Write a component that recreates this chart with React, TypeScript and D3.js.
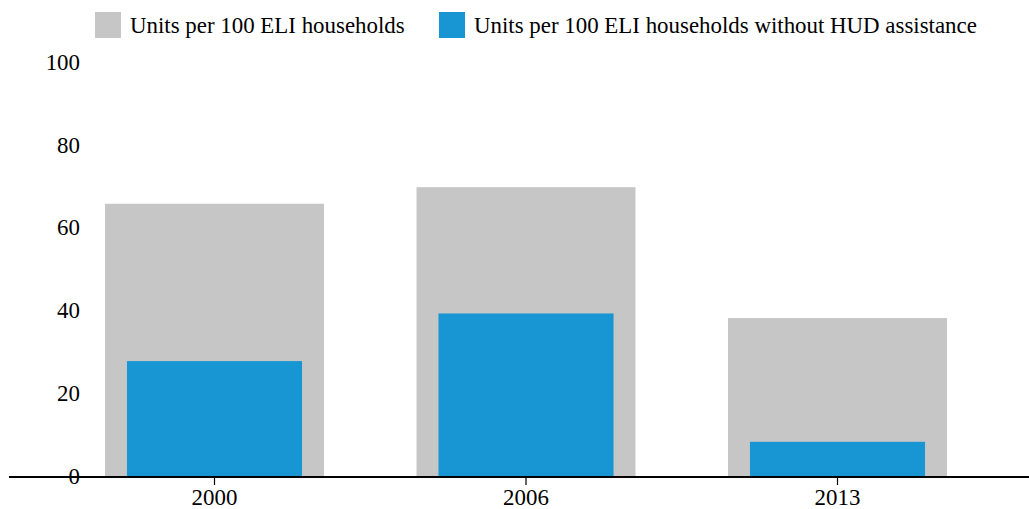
import React from "react";
import * as d3 from "d3";

const years = ["2000", "2006", "2013"];
const unitsAll = [66, 70, 38.4];
const unitsNoHud = [28, 39.5, 8.5];
const yTicks = [0, 20, 40, 60, 80, 100];
const legendLabels = [
  "Units per 100 ELI households",
  "Units per 100 ELI households without HUD assistance",
];

const W = 1029;
const H = 509;
const GREY = "#c6c6c6";
const BLUE = "#1896d3";
const FONT = "'Liberation Serif', 'Times New Roman', serif";
const FS = 22.9;

export default function App() {
  const x = d3.scaleBand<string>().domain(years).range([58.75, 993.25]).padding(0);
  const y = d3.scaleLinear().domain([0, 100]).range([477, 63]);
  const step = x.step();
  const greyW = step * 0.703;
  const blueW = step * 0.562;
  const cx = (d: string) => (x(d) as number) + x.bandwidth() / 2;

  return (
    <svg
      width={W}
      height={H}
      style={{ position: "absolute", left: 0, top: 0, background: "#fff" }}
      fontFamily={FONT}
    >
      {/* legend */}
      <rect x={95} y={12} width={26} height={26} fill={GREY} />
      <text x={130} y={27.5} fontSize={FS} dominantBaseline="middle" fill="#000">
        {legendLabels[0]}
      </text>
      <rect x={439} y={12} width={26} height={26} fill={BLUE} />
      <text x={474} y={27.5} fontSize={FS} dominantBaseline="middle" fill="#000">
        {legendLabels[1]}
      </text>

      {/* y tick labels */}
      {yTicks.map((t) => (
        <text
          key={t}
          x={80}
          y={y(t) + 1.5}
          fontSize={FS}
          textAnchor="end"
          dominantBaseline="middle"
          fill="#000"
        >
          {t}
        </text>
      ))}

      {/* bars */}
      {years.map((yr, i) => (
        <g key={yr}>
          <rect
            x={cx(yr) - greyW / 2}
            y={y(unitsAll[i])}
            width={greyW}
            height={y(0) - y(unitsAll[i])}
            fill={GREY}
          />
          <rect
            x={cx(yr) - blueW / 2}
            y={y(unitsNoHud[i])}
            width={blueW}
            height={y(0) - y(unitsNoHud[i])}
            fill={BLUE}
          />
        </g>
      ))}

      {/* x axis */}
      <line x1={9} x2={W} y1={477} y2={477} stroke="#000" strokeWidth={2} />
      {years.map((yr) => (
        <g key={"t" + yr}>
          <line x1={cx(yr)} x2={cx(yr)} y1={477} y2={485} stroke="#000" strokeWidth={1.2} />
          <text
            x={cx(yr)}
            y={500}
            fontSize={FS}
            textAnchor="middle"
            dominantBaseline="middle"
            fill="#000"
          >
            {yr}
          </text>
        </g>
      ))}
    </svg>
  );
}
